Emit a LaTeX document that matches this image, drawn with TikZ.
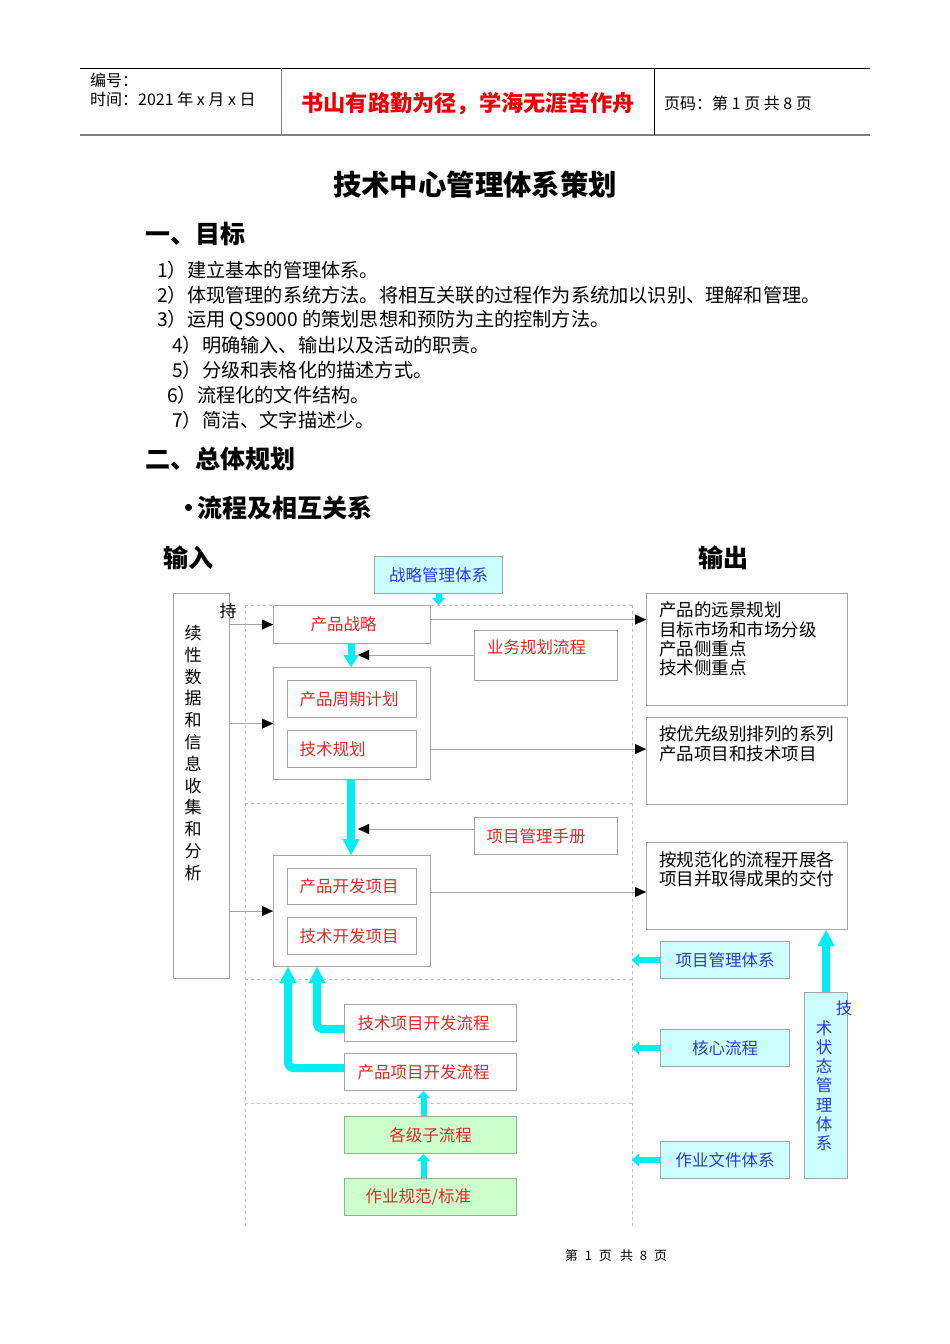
\documentclass[tikz,border=0pt]{standalone}
\usepackage{fontspec}
\setmainfont{Noto Sans CJK SC}
\usetikzlibrary{arrows.meta,calc}
\definecolor{bgray}{RGB}{165,165,165}
\definecolor{dgray}{RGB}{190,190,190}
\definecolor{tred}{RGB}{225,40,40}
\definecolor{hred}{RGB}{235,0,0}
\definecolor{tblue}{RGB}{40,60,210}
\definecolor{cyfill}{RGB}{204,255,255}
\definecolor{grfill}{RGB}{204,255,204}
\definecolor{grline}{RGB}{140,180,140}
\definecolor{cyarr}{RGB}{0,238,242}
\definecolor{pinkd}{RGB}{235,185,185}
\newcommand{\myfs}[2]{\fontsize{#1}{#2}\selectfont}
\tikzset{
  box/.style={draw=bgray, fill=white, line width=1.1pt, inner sep=0pt, anchor=north west},
  lbox/.style={box, inner xsep=12pt, align=left},
  cybox/.style={box, fill=cyfill, text=tblue, font=\myfs{16.5}{20}},
  grbox/.style={box, fill=grfill, draw=grline, text=tred, font=\myfs{16.5}{20}},
  rtext/.style={text=tred, font=\myfs{16.5}{20}},
  ktext/.style={text=black, font=\myfs{17.5}{19.2}, align=left, anchor=north west, inner sep=0pt},
  conn/.style={draw=bgray, line width=0.9pt, -{Triangle[width=10pt,length=11pt,color=black,line width=0.1pt]}},
  dashln/.style={draw=dgray, line width=0.8pt, dash pattern=on 3pt off 3pt},
  cyA/.style={draw=cyarr, line width=8pt, line join=round, rounded corners=5pt, -{Triangle[width=17pt,length=16pt,line width=0.1pt]}},
  cyS/.style={draw=cyarr, line width=6pt, -{Triangle[width=13pt,length=7pt,line width=0.1pt]}},
  listt/.style={anchor=west, inner sep=0pt, font=\myfs{19.2}{22}},
  head/.style={anchor=west, inner sep=0pt, font=\bfseries\myfs{25}{28}},
}
\begin{document}
\begin{tikzpicture}[x=1pt,y=-1pt]
\useasboundingbox (0,0) rectangle (950,1344);
\fill[white] (0,0) rectangle (950,1344);

% header
\draw[black, line width=0.8pt] (80,68) -- (870,68);
\draw[gray, line width=1.8pt] (80,135) -- (870,135);
\draw[gray, line width=1pt] (281,68) -- (281,135);
\draw[black, line width=0.8pt] (654,68) -- (654,135);
\node[anchor=west, inner sep=0pt, font=\myfs{16}{18}] (h1) at (90,80) {编号：};
\node[anchor=west, inner sep=0pt, font=\myfs{16}{18}] (h2) at (90,99) {时间：2021 年 x 月 x 日};
\node[inner sep=0pt, text=hred, font=\bfseries\myfs{22.2}{26}] (h3) at (468,104) {书山有路勤为径，学海无涯苦作舟};
\node[anchor=west, inner sep=0pt, font=\myfs{16}{18}] (h4) at (664,103) {页码：第 1 页 共 8 页};

% title and text
\node[inner sep=0pt, font=\bfseries\myfs{28.4}{32}] (title) at (475,185) {技术中心管理体系策划};
\node[head] (s1) at (145,234) {一、目标};
\node[listt] (l1) at (157,270) {1）建立基本的管理体系。};
\node[listt] (l2) at (157,295) {2）体现管理的系统方法。将相互关联的过程作为系统加以识别、理解和管理。};
\node[listt] (l3) at (157,320) {3）运用 QS9000 的策划思想和预防为主的控制方法。};
\node[listt] (l4) at (172,345) {4）明确输入、输出以及活动的职责。};
\node[listt] (l5) at (172,370) {5）分级和表格化的描述方式。};
\node[listt] (l6) at (167,395) {6）流程化的文件结构。};
\node[listt] (l7) at (172,420) {7）简洁、文字描述少。};
\node[head] (s2) at (145,459) {二、总体规划};
\node[head] (s3) at (176,508) {•\hspace{-4pt}流程及相互关系};
\node[head] (inp) at (163,558) {输入};
\node[head] (outp) at (698,558) {输出};

% dashed frame
\coordinate (frL) at (245,605);
\coordinate (frR) at (632,605);
\draw[dashln] (frL) -- (frR);
\draw[dashln] (frL) -- (245,1228);
\draw[dashln] (frR) -- (632,1228);
\draw[dashln] (245,803) -- (632,803);
\draw[dashln] (245,979) -- (632,979);
\draw[dashln, draw=pinkd] (245,1103) -- (632,1103);

% left column
\node[box, minimum width=56pt, minimum height=385pt] (left) at (173,593) {};
\node[inner sep=0pt, anchor=north, align=center, font=\myfs{17}{21.8}] (lefttxt) at (193,625)
  {续\\性\\数\\据\\和\\信\\息\\收\\集\\和\\分\\析};
\node[inner sep=0pt, font=\myfs{17}{20}] (chi) at (228,611) {持};

% top system
\node[cybox, minimum width=128pt, minimum height=37pt] (sm) at (374,556) {战略管理体系};

% central process boxes
\node[lbox, inner xsep=37pt, text width=83pt, minimum height=38pt, rtext] (ps) at (273,605) {产品战略};
\node[box, minimum width=143pt, minimum height=50pt] (bp) at (474,630) {};
\node[rtext, anchor=west, inner sep=0pt] (bptxt) at ($(bp.north west)+(13,17)$) {业务规划流程};

\node[box, minimum width=157pt, minimum height=112pt] (g1) at (273,667) {};
\node[lbox, text width=105pt, minimum height=37pt, rtext] (pcp) at (287,680) {产品周期计划};
\node[lbox, text width=105pt, minimum height=37pt, rtext] (tp) at (287,730) {技术规划};

\node[lbox, text width=119pt, minimum height=37pt, rtext] (pm) at (474,817) {项目管理手册};

\node[box, minimum width=157pt, minimum height=111pt] (g2) at (273,855) {};
\node[lbox, text width=105pt, minimum height=36pt, rtext] (pdv) at (287,868) {产品开发项目};
\node[lbox, text width=105pt, minimum height=37pt, rtext] (tdv) at (287,917) {技术开发项目};

\node[lbox, inner xsep=13pt, text width=146pt, minimum height=37pt, rtext] (tpf) at (344,1004) {技术项目开发流程};
\node[lbox, inner xsep=13pt, text width=146pt, minimum height=37pt, rtext] (ppf) at (344,1053) {产品项目开发流程};
\node[grbox, minimum width=172pt, minimum height=37pt] (sub) at (344,1116) {各级子流程};
\node[grbox, inner xsep=21pt, text width=130pt, align=left, minimum height=37pt] (std) at (344,1178) {作业规范/标准};

% output boxes
\node[box, minimum width=201pt, minimum height=112pt] (oA) at (646,593) {};
\node[ktext] (oAt) at ($(oA.north west)+(13,9)$) {产品的远景规划\\目标市场和市场分级\\产品侧重点\\技术侧重点};
\node[box, minimum width=201pt, minimum height=87pt] (oB) at (646,717) {};
\node[ktext] (oBt) at ($(oB.north west)+(13,9)$) {按优先级别排列的系列\\产品项目和技术项目};
\node[box, minimum width=201pt, minimum height=87pt] (oC) at (646,842) {};
\node[ktext] (oCt) at ($(oC.north west)+(13,9)$) {按规范化的流程开展各\\项目并取得成果的交付};

% right cyan systems
\node[cybox, minimum width=129pt, minimum height=37pt] (pms) at (660,941) {项目管理体系};
\node[cybox, minimum width=129pt, minimum height=37pt] (core) at (660,1029) {核心流程};
\node[cybox, minimum width=129pt, minimum height=37pt] (wdoc) at (660,1141) {作业文件体系};
\node[cybox, minimum width=43pt, minimum height=186pt] (tsm) at (804,992) {};
\node[inner sep=0pt, text=tblue, font=\myfs{16.5}{20}] (tsm1) at (844,1008) {技};
\node[inner sep=0pt, anchor=north, align=center, text=tblue, font=\myfs{16.5}{19.3}] (tsm2) at (824,1020)
  {术\\状\\态\\管\\理\\体\\系};

% thin connectors
\coordinate (g2o) at ($(g2.north east)+(0,37)$);
\coordinate (c1) at (358,655);
\coordinate (c2) at (358,829);
\draw[conn] (left.east |- ps.west) -- (ps.west);
\draw[conn] (left.east |- g1.west) -- (g1.west);
\draw[conn] (left.east |- g2.west) -- (g2.west);
\draw[conn] ([yshift=5pt]ps.east) -- ([yshift=5pt]ps.east -| oA.west);
\draw[conn] (g1.east |- tp.east) -- (tp.east -| oB.west);
\draw[conn] (g2o) -- (g2o -| oC.west);
\draw[conn] (bp.west |- c1) -- (c1);
\draw[conn] (pm.west |- c2) -- (c2);

% cyan arrows
\draw[cyS] (sm.south) -- (sm.south |- ps.north);
\draw[cyS, line width=7pt, -{Triangle[width=15pt,length=12pt,line width=0.1pt]}] ([xshift=-1pt]ps.south) -- ([xshift=-1pt]ps.south |- g1.north);
\draw[cyA] ([xshift=-1pt]g1.south) -- ([xshift=-1pt]g1.south |- g2.north);
\draw[cyA] ([yshift=-6pt]tpf.west) -| ($(g2.south west)+(44,0)$);
\draw[cyA] ([yshift=4pt]ppf.west) -| ($(g2.south west)+(15,0)$);
\draw[cyS] ([xshift=-7pt]sub.north) -- ([xshift=-7pt]ppf.south);
\draw[cyS] ([xshift=-7pt]sub.north |- std.north) -- ([xshift=-7pt]sub.south);
\draw[cyS] (pms.west) -- (pms.west -| frR);
\draw[cyS] (core.west) -- (core.west -| frR);
\draw[cyS] (wdoc.west) -- (wdoc.west -| frR);
\draw[cyA] (tsm.north) -- (tsm.north |- oC.south);

% footer
\node[inner sep=0pt, font=\myfs{13}{15}] (foot) at (616,1256) {第\hspace{7pt}1\hspace{7pt}页\hspace{8pt}共\hspace{7pt}8\hspace{7pt}页};
\end{tikzpicture}
\end{document}
